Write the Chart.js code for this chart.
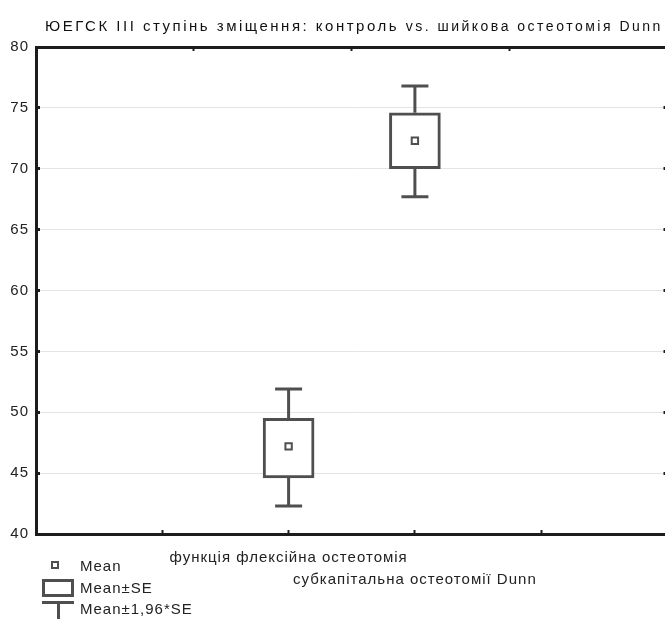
<!DOCTYPE html>
<html lang="uk">
  <head>
    <meta charset="UTF-8" />
    <title>ЮЕГСК III ступінь зміщення</title>
    <style>
      html, body { margin: 0; padding: 0; background: #fff; overflow: hidden; }
      #wrap { width: 665px; height: 619px; overflow: hidden; }
    </style>
  </head>
  <body>
    <div id="wrap">
      <canvas id="boxCanvas" width="684" height="619" style="width:684px;height:619px"></canvas>
    </div>

    <script src="https://cdn.jsdelivr.net/npm/chart.js@4.4.1/dist/chart.umd.min.js"></script>
    <script>
        // values
        const groupNames = ['функція флексійна остеотомія', 'субкапітальна остеотомії Dunn'];
        const groupPos = [1, 2];
        const means = [47.2, 72.3];
        const seLow = [44.6, 70.0];
        const seHigh = [49.5, 74.6];
        const ciLow = [42.3, 67.7];
        const ciHigh = [51.9, 76.8];
        const yTicks = [40, 45, 50, 55, 60, 65, 70, 75, 80];

        const markColor = '#4f4f4f';
        const axisColor = '#1c1c1c';
        const fontName = '"Liberation Sans", Arial, sans-serif';

        // stems: whisker low -> box low, box high -> whisker high
        let stemData = [];
        groupPos.forEach(function (x, i) {
            stemData.push({x: x, y: ciLow[i]}, {x: x, y: seLow[i]}, {x: x, y: null});
            stemData.push({x: x, y: seHigh[i]}, {x: x, y: ciHigh[i]}, {x: x, y: null});
        });
        let boxData = groupPos.map(function (x, i) { return {x: x, y: [seLow[i], seHigh[i]]}; });
        let capData = [];
        groupPos.forEach(function (x, i) {
            capData.push({x: x, y: ciLow[i]}, {x: x, y: ciHigh[i]});
        });
        let meanData = groupPos.map(function (x, i) { return {x: x, y: means[i]}; });

        // the reference is drawn with wide letter spacing
        const spacingPlugin = {
            id: 'spacing',
            beforeDraw: function (chart) { chart.ctx.letterSpacing = '1px'; }
        };

        const titlePlugin = {
            id: 'mixedTitle',
            afterDraw: function (chart) {
                let ctx = chart.ctx;
                ctx.save();
                ctx.letterSpacing = '2.5px';
                ctx.fillStyle = '#111';
                ctx.textBaseline = 'alphabetic';
                ctx.textAlign = 'left';
                let part1 = 'ЮЕГСК III ступінь зміщення: контроль ';
                let part2 = 'vs. шийкова остеотомія Dunn';
                ctx.font = '15px ' + fontName;
                ctx.fillText(part1, 45, 31);
                let w = ctx.measureText(part1).width;
                ctx.font = '14px ' + fontName;
                ctx.fillText(part2, 45 + w, 31);
                ctx.restore();
            }
        };

        const legendPlugin = {
            id: 'statLegend',
            afterDraw: function (chart) {
                let ctx = chart.ctx;
                ctx.save();
                ctx.strokeStyle = markColor;
                ctx.fillStyle = '#fff';
                // mean marker
                ctx.lineWidth = 2;
                ctx.strokeRect(52, 562, 6, 6);
                // box
                ctx.lineWidth = 3;
                ctx.strokeRect(43.5, 580.5, 29, 15);
                // whisker
                ctx.beginPath();
                ctx.moveTo(42, 602.5);
                ctx.lineTo(74, 602.5);
                ctx.moveTo(58.5, 602);
                ctx.lineTo(58.5, 619);
                ctx.stroke();

                ctx.letterSpacing = '1px';
                ctx.fillStyle = '#222';
                ctx.font = '15px ' + fontName;
                ctx.textBaseline = 'middle';
                ctx.fillText('Mean', 80, 567);
                ctx.fillText('Mean±SE', 80, 589);
                ctx.fillText('Mean±1,96*SE', 80, 610);
                ctx.restore();
            }
        };

        window.onload = function () {
            let ctx = document.getElementById('boxCanvas').getContext('2d');
            window.boxChart = new Chart(ctx, {
                type: 'bar',
                data: {
                    datasets: [
                        {
                            type: 'scatter',
                            data: meanData,
                            pointStyle: 'rect',
                            pointRadius: 4.5,
                            pointBackgroundColor: '#fff',
                            pointBorderColor: markColor,
                            pointBorderWidth: 2,
                            order: 0
                        },
                        {
                            type: 'scatter',
                            data: capData,
                            pointStyle: 'line',
                            pointRadius: 13.5,
                            pointBorderColor: markColor,
                            pointBorderWidth: 3,
                            order: 1
                        },
                        {
                            type: 'bar',
                            data: boxData,
                            backgroundColor: '#fff',
                            borderColor: markColor,
                            borderWidth: 3,
                            borderSkipped: false,
                            barThickness: 51,
                            order: 2
                        },
                        {
                            type: 'line',
                            data: stemData,
                            borderColor: markColor,
                            borderWidth: 3,
                            pointRadius: 0,
                            spanGaps: false,
                            order: 3
                        }
                    ]
                },
                options: {
                    responsive: false,
                    animation: false,
                    layout: { padding: { left: 0, right: 4, top: 0, bottom: 0 } },
                    plugins: {
                        legend: { display: false },
                        tooltip: { enabled: false },
                        title: { display: false }
                    },
                    scales: {
                        x: {
                            type: 'linear',
                            position: 'bottom',
                            offset: false,
                            min: -1,
                            max: 4,
                            afterBuildTicks: function (s) {
                                s.ticks = [-1, 0, 1, 2, 3, 4].map(function (v) { return {value: v}; });
                            },
                            afterFit: function (s) {
                                s.height = 85;
                                s.paddingLeft = 0;
                                s.paddingRight = 0;
                            },
                            grid: {
                                offset: false,
                                drawOnChartArea: false,
                                tickLength: -4,
                                tickColor: axisColor,
                                tickWidth: 2
                            },
                            border: { display: true, color: axisColor, width: 3 },
                            ticks: {
                                padding: 17,
                                maxRotation: 0,
                                autoSkip: false,
                                color: '#222',
                                font: { family: fontName, size: 15, lineHeight: '22px' },
                                callback: function (v) {
                                    let i = groupPos.indexOf(v);
                                    if (i === 0) return groupNames[0];
                                    if (i === 1) return ['', groupNames[1]];
                                    return '';
                                }
                            }
                        },
                        x2: {
                            type: 'linear',
                            position: 'top',
                            offset: false,
                            min: 0,
                            max: 4,
                            afterBuildTicks: function (s) {
                                s.ticks = [0, 1, 2, 3, 4].map(function (v) { return {value: v}; });
                            },
                            afterFit: function (s) {
                                s.height = 47;
                                s.paddingLeft = 0;
                                s.paddingRight = 0;
                            },
                            grid: {
                                offset: false,
                                drawOnChartArea: false,
                                tickLength: -4,
                                tickColor: axisColor,
                                tickWidth: 2
                            },
                            border: { display: true, color: axisColor, width: 3 },
                            ticks: { display: false }
                        },
                        y: {
                            type: 'linear',
                            position: 'left',
                            min: 40,
                            max: 80,
                            afterBuildTicks: function (s) {
                                s.ticks = yTicks.map(function (v) { return {value: v}; });
                            },
                            afterFit: function (s) { s.width = 36; },
                            grid: {
                                color: '#e4e4e4',
                                lineWidth: 1,
                                tickLength: -4,
                                tickColor: axisColor,
                                tickWidth: 3
                            },
                            border: { display: true, color: axisColor, width: 3 },
                            ticks: {
                                padding: 11,
                                color: '#222',
                                font: { family: fontName, size: 15 }
                            }
                        },
                        y2: {
                            type: 'linear',
                            position: 'right',
                            min: 40,
                            max: 80,
                            afterBuildTicks: function (s) {
                                s.ticks = yTicks.map(function (v) { return {value: v}; });
                            },
                            afterFit: function (s) { s.width = 0; },
                            grid: {
                                drawOnChartArea: false,
                                tickLength: -4,
                                tickColor: axisColor,
                                tickWidth: 3
                            },
                            border: { display: false },
                            ticks: { display: false }
                        }
                    }
                },
                plugins: [spacingPlugin, titlePlugin, legendPlugin]
            });
        };
    </script>
  </body>
</html>
